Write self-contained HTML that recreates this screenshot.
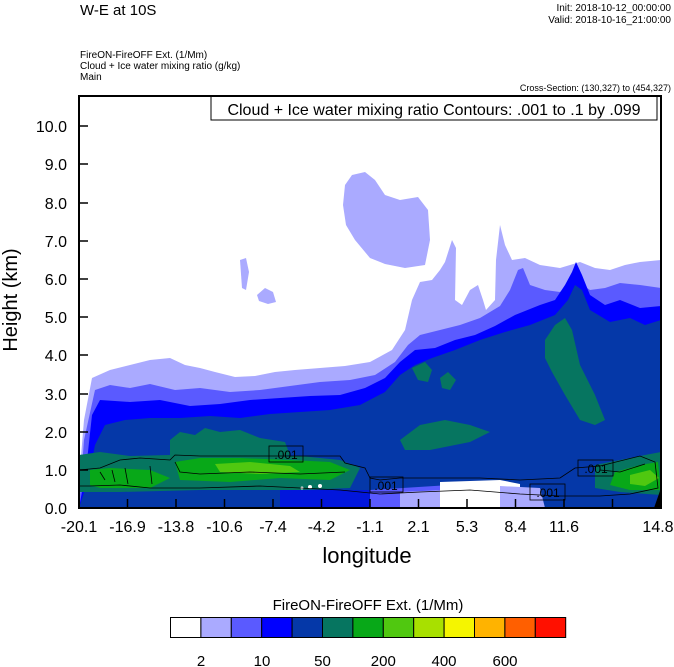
<!DOCTYPE html>
<html><head><meta charset="utf-8"><style>
body{margin:0;background:#fff}
svg{display:block;font-family:"Liberation Sans",sans-serif}
</style></head><body>
<svg width="674" height="667" viewBox="0 0 674 667">
<rect width="674" height="667" fill="#fff"/>
<text x="80" y="15" font-size="15">W-E at 10S</text>
<text x="671" y="11" font-size="10" text-anchor="end">Init: 2018-10-12_00:00:00</text>
<text x="671" y="23" font-size="10" text-anchor="end">Valid: 2018-10-16_21:00:00</text>
<text x="80" y="58" font-size="10">FireON-FireOFF Ext.   (1/Mm)</text>
<text x="80" y="69" font-size="10">Cloud + Ice water mixing ratio   (g/kg)</text>
<text x="80" y="80" font-size="10">Main</text>
<text x="671" y="91" font-size="9" text-anchor="end">Cross-Section: (130,327) to (454,327)</text>
<defs><clipPath id="c"><rect x="79" y="96" width="582" height="412"/></clipPath></defs>
<g clip-path="url(#c)">
<!-- lavender blobs -->
<path fill="#aaaaff" d="M345,185 L352,175 L365,172 L375,180 L385,195 L400,200 L418,197 L428,210 L430,240 L425,265 L405,268 L385,264 L370,258 L355,240 L346,225 L343,205Z"/>
<path fill="#aaaaff" d="M240,260 L246,258 L249,272 L246,290 L242,288Z"/>
<path fill="#aaaaff" d="M257,295 L265,288 L273,292 L276,302 L268,304 L259,301Z"/>
<path fill="#aaaaff" d="M79,508 L79,480 L84,420 L92,378 L110,370 L130,365 L150,360 L170,358 L185,365 L200,368 L215,372 L235,377 L255,376 L275,372 L295,370 L320,368 L345,366 L370,362 L392,350 L405,330 L412,300 L420,282 L432,280 L440,270 L445,262 L452,240 L456,248 L455,300 L462,305 L470,290 L478,285 L483,300 L486,310 L495,300 L496,260 L500,225 L505,245 L512,260 L525,258 L540,265 L560,268 L580,262 L595,268 L610,270 L625,265 L640,262 L661,260 L661,508Z"/>
<path fill="#5a5aff" d="M79,508 L84,440 L95,390 L110,385 L130,388 L150,384 L175,390 L200,388 L230,392 L260,390 L290,386 L320,382 L350,380 L375,375 L395,362 L408,345 L420,335 L440,330 L460,325 L480,318 L500,306 L510,290 L518,270 L523,268 L530,285 L545,290 L560,292 L575,280 L590,290 L605,288 L620,283 L640,285 L661,288 L661,508Z"/>
<path fill="#0000ff" d="M79,508 L86,470 L92,415 L100,400 L130,402 L160,400 L190,406 L220,404 L250,400 L280,398 L310,396 L340,395 L365,388 L385,378 L400,362 L415,350 L435,348 L455,340 L475,335 L495,326 L515,315 L540,305 L555,300 L565,285 L572,272 L576,262 L582,275 L590,295 L605,305 L620,300 L640,308 L661,306 L661,508Z"/>
<path fill="#0538a8" d="M79,508 L88,480 L95,445 L105,425 L125,420 L150,418 L180,418 L210,416 L240,418 L270,414 L300,412 L330,410 L360,405 L385,392 L400,375 L415,365 L432,358 L455,350 L480,340 L505,332 L530,325 L555,315 L568,300 L575,285 L582,290 L590,310 L610,322 L630,318 L645,325 L661,320 L661,508Z"/>
<!-- teal -->
<path fill="#067560" d="M170,440 L180,432 L195,435 L205,428 L220,432 L240,430 L260,438 L285,442 L290,455 L240,462 L190,465 L170,460Z"/>
<path fill="#067560" d="M412,368 L425,362 L432,370 L428,382 L418,380Z"/>
<path fill="#067560" d="M440,378 L448,372 L456,380 L450,390 L442,388Z"/>
<path fill="#067560" d="M400,440 L420,425 L445,420 L470,425 L490,432 L470,442 L430,450 L405,450Z"/>
<path fill="#067560" d="M545,340 L555,325 L565,318 L572,330 L580,365 L595,395 L605,420 L595,425 L580,420 L565,395 L552,372 L545,358Z"/>
<path fill="#067560" d="M79,455 L100,452 L130,456 L170,455 L230,455 L300,456 L340,460 L360,468 L350,488 L300,490 L200,490 L120,492 L79,492Z"/>
<path fill="#067560" d="M595,465 L620,460 L645,455 L661,452 L661,495 L620,492 L595,488Z"/>
<!-- green -->
<path fill="#08a818" d="M175,462 L200,458 L240,458 L290,460 L330,462 L350,470 L330,480 L280,478 L230,482 L180,480Z"/>
<path fill="#08a818" d="M90,470 L110,468 L150,470 L170,478 L150,488 L100,488 L90,485Z"/>
<path fill="#08a818" d="M615,472 L640,465 L658,462 L661,490 L630,490 L610,485Z"/>
<path fill="#50c810" d="M215,464 L250,462 L290,466 L300,472 L260,474 L220,472Z"/>
<path fill="#50c810" d="M630,475 L650,470 L659,478 L645,486 L630,484Z"/>
<!-- bottom light patches -->
<path fill="#5a5aff" d="M370,490 L450,485 L450,508 L370,508Z"/>
<path fill="#aaaaff" d="M400,492 L445,490 L445,508 L400,508Z"/>
<path fill="#ffffff" d="M440,482 L500,480 L520,484 L520,508 L440,508Z"/>
<path fill="#aaaaff" d="M500,486 L540,488 L545,508 L500,508Z"/>
<path fill="#0000ff" d="M280,490 L370,490 L370,508 L280,508Z" opacity="0.6"/>
<circle cx="310" cy="487" r="2" fill="#fff"/><circle cx="320" cy="486" r="2" fill="#fff"/><circle cx="302" cy="488" r="1.5" fill="#fff"/>
<path fill="#000" d="M654,508 L661,488 L661,508Z"/>
<!-- contour lines -->
<g fill="none" stroke="#000" stroke-width="0.8">
<path d="M79,470 L100,468 L120,460 L140,458 L170,460 L175,455 L200,456 L260,456 L340,456 L345,463 L365,468 L370,478 L380,480 L400,478 L440,478 L480,478 L520,480 L560,478 L575,468 L600,466 L640,456 L655,462 L658,488 L630,494 L600,496 L560,496 L520,494 L470,490 L420,492 L380,494 L340,490 L260,486 L200,488 L150,488 L120,485 L90,486 L79,486"/>
<path d="M175,462 L180,472 L200,474 L250,472 L300,474 L345,472"/>
<path d="M600,470 L620,472 L645,464"/>
<path d="M100,472 L105,480 M112,470 L115,482 M125,468 L128,484 M150,466 L152,484"/>
</g>
<g font-size="12" text-anchor="middle">
<rect x="269" y="446" width="34" height="16" fill="none" stroke="#000" stroke-width="0.8"/><text x="286" y="459">.001</text>
<rect x="370" y="477" width="33" height="15" fill="none" stroke="#000" stroke-width="0.8"/><text x="386" y="490">.001</text>
<rect x="530" y="484" width="35" height="16" fill="none" stroke="#000" stroke-width="0.8"/><text x="548" y="497">.001</text>
<rect x="578" y="460" width="35" height="16" fill="none" stroke="#000" stroke-width="0.8"/><text x="596" y="473">.001</text>
</g>
</g>
<!-- title box -->
<rect x="211" y="96" width="446" height="24" fill="#fff" stroke="#000" stroke-width="1"/>
<text x="434" y="115" font-size="16" text-anchor="middle">Cloud + Ice water mixing ratio Contours: .001 to .1 by .099</text>
<!-- frame -->
<rect x="79" y="96" width="582" height="412" fill="none" stroke="#000" stroke-width="2"/>
<g stroke="#000" stroke-width="1.5">
<path d="M79,508h9M79,470h9M79,432h9M79,394h9M79,355h9M79,317h9M79,279h9M79,241h9M79,203h9M79,164h9M79,126h9"/>
<path d="M127.5,508v-9M176,508v-9M224.5,508v-9M273,508v-9M321.5,508v-9M370,508v-9M418.5,508v-9M467,508v-9M515.5,508v-9M564,508v-9M612.5,508v-9"/>
</g>
<g font-size="16" text-anchor="end">
<text x="67" y="514">0.0</text><text x="67" y="476">1.0</text><text x="67" y="438">2.0</text><text x="67" y="400">3.0</text><text x="67" y="361">4.0</text><text x="67" y="323">5.0</text><text x="67" y="285">6.0</text><text x="67" y="247">7.0</text><text x="67" y="209">8.0</text><text x="67" y="170">9.0</text><text x="67" y="132">10.0</text>
</g>
<text transform="translate(17,300) rotate(-90)" font-size="20" text-anchor="middle">Height (km)</text>
<g font-size="16" text-anchor="middle">
<text x="79" y="532">-20.1</text><text x="127.5" y="532">-16.9</text><text x="176" y="532">-13.8</text><text x="224.5" y="532">-10.6</text><text x="273" y="532">-7.4</text><text x="321.5" y="532">-4.2</text><text x="370" y="532">-1.1</text><text x="418.5" y="532">2.1</text><text x="467" y="532">5.3</text><text x="515.5" y="532">8.4</text><text x="564" y="532">11.6</text><text x="658" y="532">14.8</text>
</g>
<text x="367" y="563" font-size="22" text-anchor="middle">longitude</text>
<text x="368" y="610" font-size="15" text-anchor="middle">FireON-FireOFF Ext.  (1/Mm)</text>
<g stroke="#000" stroke-width="1">
<rect x="170.5" y="617.5" width="30.4" height="20" fill="#fff"/>
<rect x="200.9" y="617.5" width="30.4" height="20" fill="#aaaaff"/>
<rect x="231.3" y="617.5" width="30.4" height="20" fill="#5a5aff"/>
<rect x="261.7" y="617.5" width="30.4" height="20" fill="#0000ff"/>
<rect x="292.1" y="617.5" width="30.4" height="20" fill="#0538a8"/>
<rect x="322.5" y="617.5" width="30.4" height="20" fill="#067560"/>
<rect x="352.9" y="617.5" width="30.4" height="20" fill="#08a818"/>
<rect x="383.3" y="617.5" width="30.4" height="20" fill="#50c810"/>
<rect x="413.7" y="617.5" width="30.4" height="20" fill="#a8e000"/>
<rect x="444.1" y="617.5" width="30.4" height="20" fill="#f5f500"/>
<rect x="474.5" y="617.5" width="30.4" height="20" fill="#ffb300"/>
<rect x="504.9" y="617.5" width="30.4" height="20" fill="#ff5f00"/>
<rect x="535.3" y="617.5" width="30.4" height="20" fill="#ff1000"/>
</g>
<g font-size="15" text-anchor="middle">
<text x="201" y="666">2</text><text x="262" y="666">10</text><text x="322.5" y="666">50</text><text x="383.3" y="666">200</text><text x="444" y="666">400</text><text x="505" y="666">600</text>
</g>
</svg>
</body></html>
